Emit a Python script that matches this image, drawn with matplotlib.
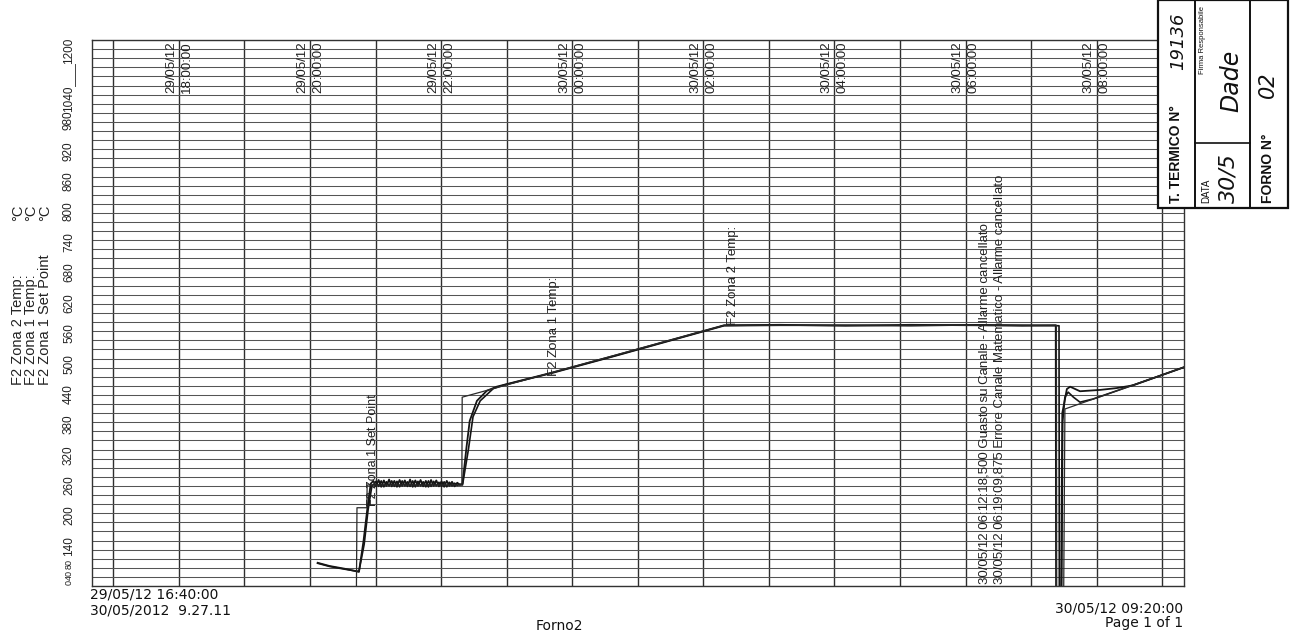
import numpy as np
import pandas as pd
import matplotlib
matplotlib.use("Agg")
import matplotlib.pyplot as plt
from matplotlib.patches import Rectangle
from matplotlib.lines import Line2D

plt.rcParams['font.family'] = ['Liberation Sans', 'DejaVu Sans']

# ----- chart recorder data: hours after 29/05/12 16:40 -----
T0 = pd.Timestamp("2012-05-29 16:40:00")
T_END = pd.Timestamp("2012-05-30 09:20:00")

# plateau sampling window (soak at ~225 C)
soak_t = np.linspace(4.30, 5.62, 34)
zona1_soak = [231, 219, 233, 218, 232, 220, 234, 219, 231, 218, 233, 220,
              232, 219, 234, 218, 232, 220, 233, 219, 231, 218, 233, 220,
              232, 219, 230, 218, 231, 220, 229, 219, 227, 222]
zona2_soak = [222, 230, 219, 231, 218, 229, 220, 231, 219, 230, 218, 231,
              220, 229, 219, 231, 218, 230, 220, 229, 218, 231, 219, 230,
              220, 228, 219, 229, 218, 228, 220, 226, 221, 224]

zona1_t_pre = [3.45, 3.63, 3.86, 4.08, 4.15, 4.21, 4.26]
zona1_v_pre = [51, 44, 38, 31, 99, 172, 225]
zona1_t_post = [5.66, 5.72, 5.77, 5.88, 6.03, 6.18, 7.00, 8.00, 9.00, 9.65,
                10.5, 11.5, 12.5, 13.5, 14.2, 14.71, 14.715, 14.79, 14.81,
                14.88, 14.93, 15.08, 15.39, 15.64, 15.89, 16.20, 16.67]
zona1_v_post = [225, 304, 363, 407, 429, 438, 468, 507, 547, 573,
                574, 572, 574, 573, 572, 573, -40, -40, 380,
                433, 438, 428, 431, 435, 441, 457, 481]

zona2_t_pre = [3.45, 3.63, 3.86, 4.08, 4.16, 4.22, 4.28]
zona2_v_pre = [50, 43, 37, 32, 92, 168, 222]
zona2_t_post = [5.66, 5.75, 5.82, 5.93, 6.13, 6.30, 7.00, 8.00, 9.00, 9.65,
                10.5, 11.5, 12.5, 13.5, 14.2, 14.76, 14.765, 14.80, 14.815,
                14.85, 14.90, 14.98, 15.08, 15.28, 15.60, 16.20, 16.67]
zona2_v_post = [222, 300, 372, 407, 434, 442, 467, 506, 546, 572,
                573, 573, 572, 574, 573, 572, -40, -40, 360,
                415, 426, 415, 404, 411, 427, 457, 481]

setp_t = [4.04, 4.05, 4.20, 4.205, 5.65, 5.655, 9.65, 14.72, 14.725,
          14.83, 14.85, 16.67]
setp_v = [-40, 172, 172, 222, 222, 415, 573, 573, -40, -40, 389, 481]

# time labels printed on the major lines
major_stamps = ["2012-05-29 18:00", "2012-05-29 20:00", "2012-05-29 22:00",
                "2012-05-30 00:00", "2012-05-30 02:00", "2012-05-30 04:00",
                "2012-05-30 06:00", "2012-05-30 08:00"]

# events / channel labels
events = ["30/05/12 06:12:18,500 Guasto su Canale - Allarme cancellato",
          "30/05/12 06:19:09,875 Errore Canale Matematico - Allarme cancellato"]
event_time = pd.Timestamp("2012-05-30 06:12:18")

ytick_labels = ["140", "200", "260", "320", "380", "440", "500", "560", "620",
                "680", "740", "800", "860", "920", "980"]

legend_rows = ["F2 Zona 2 Temp:", "F2 Zona 1 Temp:", "F2 Zona 1 Set Point"]


def hours(ts):
    return (pd.Timestamp(ts) - T0) / pd.Timedelta(hours=1)


W, H = 1292, 631
fig = plt.figure(figsize=(W / 100, H / 100), dpi=100)
fig.patch.set_facecolor('white')


def fx(px):
    return px / W


def fy(py):
    return 1 - py / H


ax = fig.add_axes([fx(91.5), fy(586), fx(1184) - fx(91.5), fy(40) - fy(586)])
x_end = hours(T_END)
ax.set_xlim(0, x_end)
ax.set_ylim(0, 1200)

# paper grid: 20 C rows, 1 h columns
ax.set_yticks(np.arange(0, 1201, 20))
first_hour = hours("2012-05-29 17:00")
ax.set_xticks(np.arange(first_hour, x_end, 1.0))
ax.tick_params(length=0, labelbottom=False, labelleft=False)
ax.grid(axis='y', color='#555555', lw=0.75)
ax.grid(axis='x', color='#2e2e2e', lw=1.0)
ax.set_axisbelow(True)
for s in ax.spines.values():
    s.set_color('#333333')
    s.set_linewidth(1.0)

ink = '#151515'
ax.plot(zona1_t_pre + list(soak_t) + zona1_t_post,
        zona1_v_pre + zona1_soak + zona1_v_post, color=ink, lw=1.3)
ax.plot(zona2_t_pre + list(soak_t) + zona2_t_post,
        zona2_v_pre + zona2_soak + zona2_v_post, color=ink, lw=1.2)
ax.plot(setp_t, setp_v, color='#2a2a2a', lw=0.9)

# major time labels: date left of the line, time right of it
for st in major_stamps:
    ts = pd.Timestamp(st)
    h = hours(ts)
    ax.annotate(ts.strftime("%d/%m/%y"), xy=(h, 1200), xytext=(-1.5, -1),
                textcoords='offset points', rotation=90, ha='right', va='top',
                fontsize=9.5, color='#222222')
    ax.annotate(ts.strftime("%H:%M:%S"), xy=(h, 1200), xytext=(1.5, -1),
                textcoords='offset points', rotation=90, ha='left', va='top',
                fontsize=9.5, color='#222222')

# channel tags along the traces
ax.text(setp_t[2] + 0.01, 176, "F2 Zona 1 Set Point", rotation=90,
        ha='left', va='bottom', fontsize=9, color='#222222')
ax.text(6.96, 462, "F2 Zona 1 Temp:", rotation=90,
        ha='left', va='bottom', fontsize=9.5, color='#222222')
ax.text(9.70, 573, "F2 Zona 2 Temp:", rotation=90,
        ha='left', va='bottom', fontsize=9.5, color='#222222')
ax.text(hours(event_time), 4, "\n".join(events), rotation=90,
        ha='left', va='bottom', fontsize=9.5, color='#222222',
        linespacing=1.25)

# printed scale on the left margin
lab_x = fx(69)
fig.text(lab_x, fy(51), "1200", rotation=90, ha='center', va='center',
         fontsize=8.5, color='#222222')
fig.text(lab_x, fy(99), "1040", rotation=90, ha='center', va='center',
         fontsize=8.5, color='#222222')
for i, lab in enumerate(ytick_labels):
    fig.text(lab_x, fy(546 - 30.4 * i), lab, rotation=90, ha='center',
             va='center', fontsize=8.5, color='#222222')
for lab, py in zip(["0", "40", "80"], [582.5, 574.5, 564]):
    fig.text(lab_x, fy(py), lab, rotation=90, ha='center', va='center',
             fontsize=6.5, color='#222222')
fig.add_artist(Line2D([fx(75), fx(75)], [fy(64), fy(86)], color='#444444',
                      lw=0.7))

for i, row in enumerate(legend_rows):
    fig.text(fx(18 + 13.5 * i), fy(385), row, rotation=90, ha='center',
             va='bottom', fontsize=10.5, color='#222222')
    fig.text(fx(18 + 13.5 * i), fy(205), "°C", rotation=90, ha='center',
             va='top', fontsize=10.5, color='#222222')

# footer
foot = dict(family='DejaVu Sans', fontsize=10, color='#111111')
fig.text(fx(90), fy(599), T0.strftime("%d/%m/%y %H:%M:%S"), ha='left',
         va='baseline', **foot)
fig.text(fx(90), fy(614), "30/05/2012  9.27.11", ha='left', va='baseline',
         **foot)
fig.text(fx(559), fy(630), "Forno2", ha='center', va='baseline', **foot)
fig.text(fx(1183), fy(612), T_END.strftime("%d/%m/%y %H:%M:%S"), ha='right',
         va='baseline', **foot)
fig.text(fx(1183), fy(627), "Page 1 of 1", ha='right', va='baseline', **foot)

# register stamp, top right
box = dict(transform=fig.transFigure, zorder=5)
fig.add_artist(Rectangle((fx(1158), fy(208)), fx(1288) - fx(1158),
                         fy(0) - fy(208), facecolor='white',
                         edgecolor='#111111', lw=1.6, **box))
for px in (1195, 1250):
    fig.add_artist(Line2D([fx(px), fx(px)], [fy(0), fy(208)],
                          color='#111111', lw=1.4, **box))
fig.add_artist(Line2D([fx(1195), fx(1250)], [fy(143), fy(143)],
                      color='#111111', lw=1.2, **box))

stamp = dict(rotation=90, color='#111111', zorder=6)
fig.text(fx(1176), fy(203), "T. TERMICO N°", ha='center', va='bottom',
         fontsize=10, weight='bold', **stamp)
fig.text(fx(1178), fy(70), "19136", ha='center', va='bottom', fontsize=13,
         style='italic', family='DejaVu Sans', **stamp)
fig.text(fx(1206), fy(203), "DATA", ha='center', va='bottom', fontsize=7,
         **stamp)
fig.text(fx(1228), fy(203), "30/5", ha='center', va='bottom', fontsize=16,
         style='italic', family='DejaVu Sans', **stamp)
fig.text(fx(1203), fy(74), "Firma Responsabile", ha='center', va='bottom',
         fontsize=5.5, **stamp)
fig.text(fx(1231), fy(112), "Dade", ha='center', va='bottom', fontsize=17,
         style='italic', family='DejaVu Sans', **stamp)
fig.text(fx(1268), fy(203), "FORNO N°", ha='center', va='bottom',
         fontsize=10, weight='bold', **stamp)
fig.text(fx(1268), fy(98), "02", ha='center', va='bottom', fontsize=15,
         style='italic', family='DejaVu Sans', **stamp)

fig.savefig("out.png", dpi=100)
